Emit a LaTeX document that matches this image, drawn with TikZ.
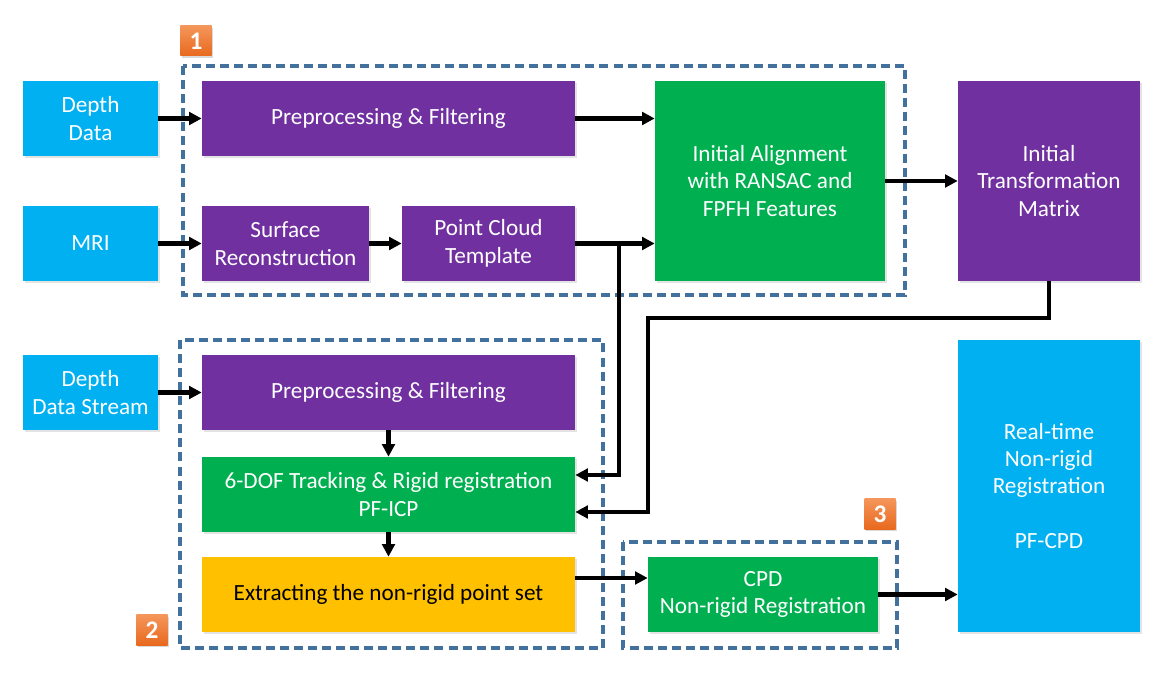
\documentclass[tikz,border=0pt]{standalone}
\usepackage{fontspec}
\setmainfont{Carlito}
\usepackage{tikz}
\usetikzlibrary{arrows.meta,calc,shadows}
\definecolor{skyb}{RGB}{0,176,240}
\definecolor{purp}{RGB}{112,48,160}
\definecolor{grn}{RGB}{0,176,80}
\definecolor{gold}{RGB}{255,192,0}
\definecolor{steel}{RGB}{65,113,156}
\definecolor{orlight}{RGB}{244,150,90}
\definecolor{ordark}{RGB}{232,105,30}

\begin{document}
\begin{tikzpicture}[x=0.025cm, y=-0.025cm,
  box/.style={rectangle, inner sep=0pt, align=center, text=white,
    font=\fontsize{16.5}{19.5}\selectfont,
    drop shadow={opacity=0.22, shadow xshift=1.2pt, shadow yshift=-1.2pt}},
  src/.style={box, fill=skyb, minimum width=3.375cm, minimum height=1.875cm},
  stage/.style={box, minimum height=1.875cm},
  group/.style={draw=steel, line width=2.6pt, dash pattern=on 6.4pt off 3.6pt},
  badge/.style={rectangle, inner sep=0pt, minimum width=0.775cm, minimum height=0.75cm,
    top color=orlight, bottom color=ordark, text=white, font=\fontsize{18}{18}\selectfont\bfseries,
    drop shadow={opacity=0.3, shadow xshift=1.2pt, shadow yshift=-1.2pt}},
  arr/.style={-{Triangle[length=9pt, width=9pt]}, line width=3pt}]
\useasboundingbox (0,0) rectangle (1166,674);

% groups
\draw[group] (183,66) rectangle (905,295);
\draw[group] (180,340) rectangle (603,648);
\draw[group] (623,542) rectangle (897,648);
\node[badge] (b1) at (196,41) {1};
\node[badge] (b2) at (152,630) {2};
\node[badge] (b3) at (880,514) {3};

% inputs
\node[src] (ddata) at (90.5,118.5) {Depth\\Data};
\node[src] (mri) at (90.5,243.5) {MRI};
\node[src] (dstream) at (90.5,392.5) {Depth\\Data Stream};

% stage 1
\node[stage, fill=purp, minimum width=9.325cm] (prep1) at (388.5,118.5) {Preprocessing \& Filtering};
\node[stage, fill=purp, minimum width=4.175cm] (surf) at (285.5,243.5) {Surface\\Reconstruction};
\node[stage, fill=purp, minimum width=4.325cm] (pct) at (488.5,243.5) {Point Cloud\\Template};
\node[box, fill=grn, minimum width=5.75cm, minimum height=5cm] (align) at (770,181) {Initial Alignment\\with RANSAC and\\FPFH Features};
\node[box, fill=purp, minimum width=4.55cm, minimum height=5cm] (itm) at (1049,181) {Initial\\Transformation\\Matrix};

% stage 2
\node[stage, fill=purp, minimum width=9.325cm] (prep2) at (388.5,392.5) {Preprocessing \& Filtering};
\node[stage, fill=grn, minimum width=9.325cm] (track) at (388.5,494.5) {6-DOF Tracking \& Rigid registration\\PF-ICP};
\node[stage, fill=gold, text=black, minimum width=9.325cm] (extr) at (388.5,594.5) {Extracting the non-rigid point set};

% stage 3
\node[stage, fill=grn, minimum width=5.75cm] (cpd) at (763,594.5) {CPD\\Non-rigid Registration};
\node[box, fill=skyb, minimum width=4.55cm, minimum height=7.3cm] (rt) at (1049,486) {Real-time\\Non-rigid\\Registration\\[19.5pt]PF-CPD};

% connectors
\draw[arr] (ddata) -- (prep1);
\draw[arr] (mri) -- (surf);
\draw[arr] (surf) -- (pct);
\draw[arr] (prep1.east) -- (prep1.east -| align.west);
\draw[arr] (pct.east) -- (pct.east -| align.west);
\draw[arr] (align) -- (itm);
\coordinate (tap) at (619,243.5);
\draw[arr] (tap) |- ($(track.east)+(0,-19.5)$);
\coordinate (bend) at (648,318);
\draw[arr] (itm.south) |- (bend) |- ($(track.east)+(0,17.5)$);
\draw[arr] (dstream) -- (prep2);
\draw[arr] (prep2) -- (track);
\draw[arr] (track) -- (extr);
\draw[arr] ($(extr.east)+(0,-16.5)$) -- ($(cpd.west)+(0,-16.5)$);
\draw[arr] (cpd.east) -- (cpd.east -| rt.west);
\end{tikzpicture}
\end{document}
